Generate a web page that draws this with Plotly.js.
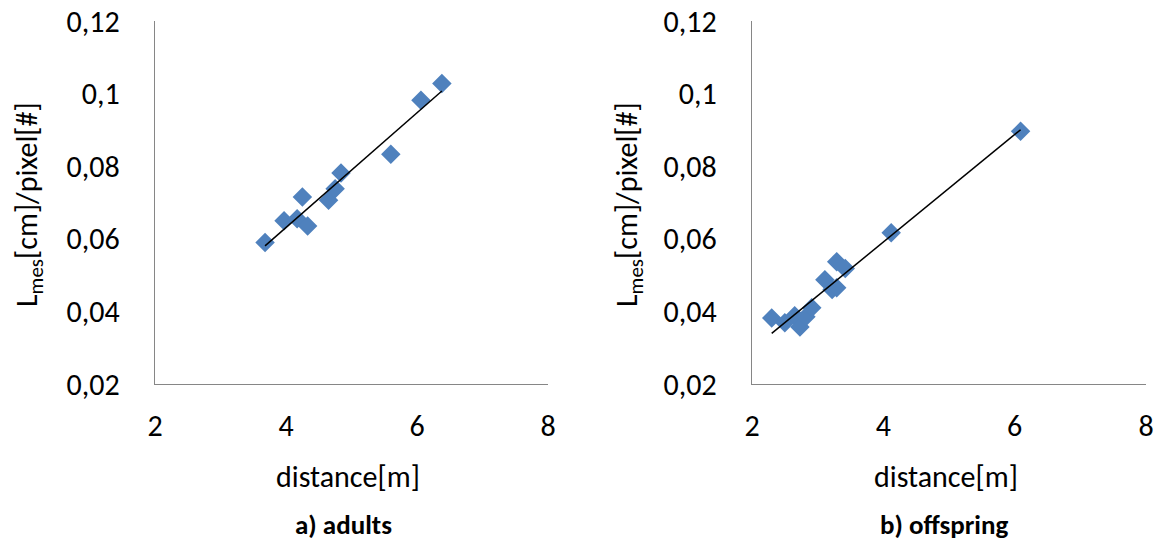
<!DOCTYPE html>
<html>
<head>
<meta charset="utf-8">
<script src="https://cdn.plot.ly/plotly-3.0.1.min.js"></script>
<style>html,body{margin:0;padding:0;background:#fff;}#chart{width:1159px;height:541px;}</style>
</head>
<body>
<div id="chart"></div>
<script>
// Data
const adultsDistance = [3.68, 3.97, 4.17, 4.25, 4.33, 4.65, 4.75, 4.84, 5.60, 6.06, 6.38];
const adultsLmes     = [0.0590, 0.0650, 0.0655, 0.0715, 0.0635, 0.0706, 0.0738, 0.0781, 0.0833, 0.0982, 0.1028];

const offspringDistance = [2.30, 2.50, 2.65, 2.73, 2.82, 2.91, 3.11, 3.22, 3.29, 3.29, 3.42, 4.12, 6.09];
const offspringLmes     = [0.0382, 0.0369, 0.0388, 0.0357, 0.0385, 0.0410, 0.0487, 0.0460, 0.0465, 0.0537, 0.0518, 0.0617, 0.0896];

const xTickVals = [2, 4, 6, 8];
const xTickText = ['2', '4', '6', '8'];
const yTickVals = [0.02, 0.04, 0.06, 0.08, 0.10, 0.12];
const yTickText = ['0,02', '0,04', '0,06', '0,08', '0,1', '0,12'];

const panelTitles = ['a) adults', 'b) offspring'];
const xTitle = 'distance[m]';
const yTitle = 'L<sub>mes</sub>[cm]/pixel[#]';

// Linear (least squares) trendline between min and max x, as Excel does
function trend(xs, ys) {
  const n = xs.length;
  let sx = 0, sy = 0, sxx = 0, sxy = 0;
  for (let i = 0; i < n; i++) { sx += xs[i]; sy += ys[i]; sxx += xs[i]*xs[i]; sxy += xs[i]*ys[i]; }
  const b = (n*sxy - sx*sy) / (n*sxx - sx*sx);
  const a = (sy - b*sx) / n;
  const x0 = Math.min(...xs), x1 = Math.max(...xs);
  return {x: [x0, x1], y: [a + b*x0, a + b*x1]};
}

// Use a Calibri-metric font if one is installed, else Lato
function hasFont(name) {
  const c = document.createElement('canvas').getContext('2d');
  const s = 'distance[m]0,12 adults';
  c.font = '40px monospace';
  const w1 = c.measureText(s).width;
  c.font = '40px "' + name + '", monospace';
  return Math.abs(c.measureText(s).width - w1) > 0.5;
}
const calibriLike = hasFont('Carlito') ? 'Carlito' : (hasFont('Calibri') ? 'Calibri' : null);
const FONT = calibriLike ? '"' + calibriLike + '", Lato, sans-serif' : 'Lato, "Open Sans", sans-serif';
const FS = calibriLike ? 30 : 27;
const FSB = calibriLike ? 27 : 25;

const tA = trend(adultsDistance, adultsLmes);
const tB = trend(offspringDistance, offspringLmes);

const markerStyle = {symbol: 'diamond', size: 15, color: '#4F81BD', line: {width: 0}};

const traces = [
  {x: adultsDistance, y: adultsLmes, xaxis: 'x', yaxis: 'y', mode: 'markers', type: 'scatter', marker: markerStyle},
  {x: tA.x, y: tA.y, xaxis: 'x', yaxis: 'y', mode: 'lines', type: 'scatter', line: {color: '#000', width: 1.5}},
  {x: offspringDistance, y: offspringLmes, xaxis: 'x2', yaxis: 'y2', mode: 'markers', type: 'scatter', marker: markerStyle},
  {x: tB.x, y: tB.y, xaxis: 'x2', yaxis: 'y2', mode: 'lines', type: 'scatter', line: {color: '#000', width: 1.5}}
];

const W = 1159, H = 541;
const dA = [155/W, 548/W], dB = [752/W, 1146/W];
const dY = [1 - 384/H, 1 - 21/H];

function xAxis(domain, anchor) {
  return {domain: domain, anchor: anchor, range: [2, 8], tickvals: xTickVals, ticktext: xTickText,
    showgrid: false, zeroline: false, showline: true, linecolor: '#868686', linewidth: 1.3,
    ticks: 'outside', ticklen: 15, tickcolor: 'rgba(0,0,0,0)',
    tickfont: {family: FONT, size: FS, color: '#000'}, fixedrange: true};
}
function yAxis(domain, anchor) {
  return {domain: domain, anchor: anchor, range: [0.02, 0.12], tickvals: yTickVals, ticktext: yTickText,
    showgrid: false, zeroline: false, showline: true, linecolor: '#868686', linewidth: 1.3,
    ticks: 'outside', ticklen: 28, tickcolor: 'rgba(0,0,0,0)',
    tickfont: {family: FONT, size: FS, color: '#000'}, fixedrange: true};
}

const annFont = {family: FONT, size: FS, color: '#000'};
const boldFont = {family: FONT, size: FSB, color: '#000'};
const annotations = [
  {text: xTitle, xref: 'paper', yref: 'paper', x: 348/W, y: 1 - 476/H, showarrow: false, font: annFont, xanchor: 'center', yanchor: 'middle'},
  {text: xTitle, xref: 'paper', yref: 'paper', x: 946/W, y: 1 - 476/H, showarrow: false, font: annFont, xanchor: 'center', yanchor: 'middle'},
  {text: '<b>' + panelTitles[0] + '</b>', xref: 'paper', yref: 'paper', x: 343/W, y: 1 - 524/H, showarrow: false, font: boldFont, xanchor: 'center', yanchor: 'middle'},
  {text: '<b>' + panelTitles[1] + '</b>', xref: 'paper', yref: 'paper', x: 944/W, y: 1 - 524/H, showarrow: false, font: boldFont, xanchor: 'center', yanchor: 'middle'},
  {text: yTitle, xref: 'paper', yref: 'paper', x: 28/W, y: 1 - 205/H, textangle: -90, showarrow: false, font: annFont, xanchor: 'center', yanchor: 'middle'},
  {text: yTitle, xref: 'paper', yref: 'paper', x: 628/W, y: 1 - 205/H, textangle: -90, showarrow: false, font: annFont, xanchor: 'center', yanchor: 'middle'}
];

const layout = {
  width: W, height: H,
  margin: {l: 0, r: 0, t: 0, b: 0},
  paper_bgcolor: '#fff', plot_bgcolor: '#fff',
  separators: ',.',
  showlegend: false,
  font: {family: FONT, color: '#000'},
  xaxis: xAxis(dA, 'y'),
  yaxis: yAxis(dY, 'x'),
  xaxis2: xAxis(dB, 'y2'),
  yaxis2: yAxis(dY, 'x2'),
  annotations: annotations
};

Plotly.newPlot('chart', traces, layout, {displayModeBar: false, staticPlot: true});
</script>
</body>
</html>
